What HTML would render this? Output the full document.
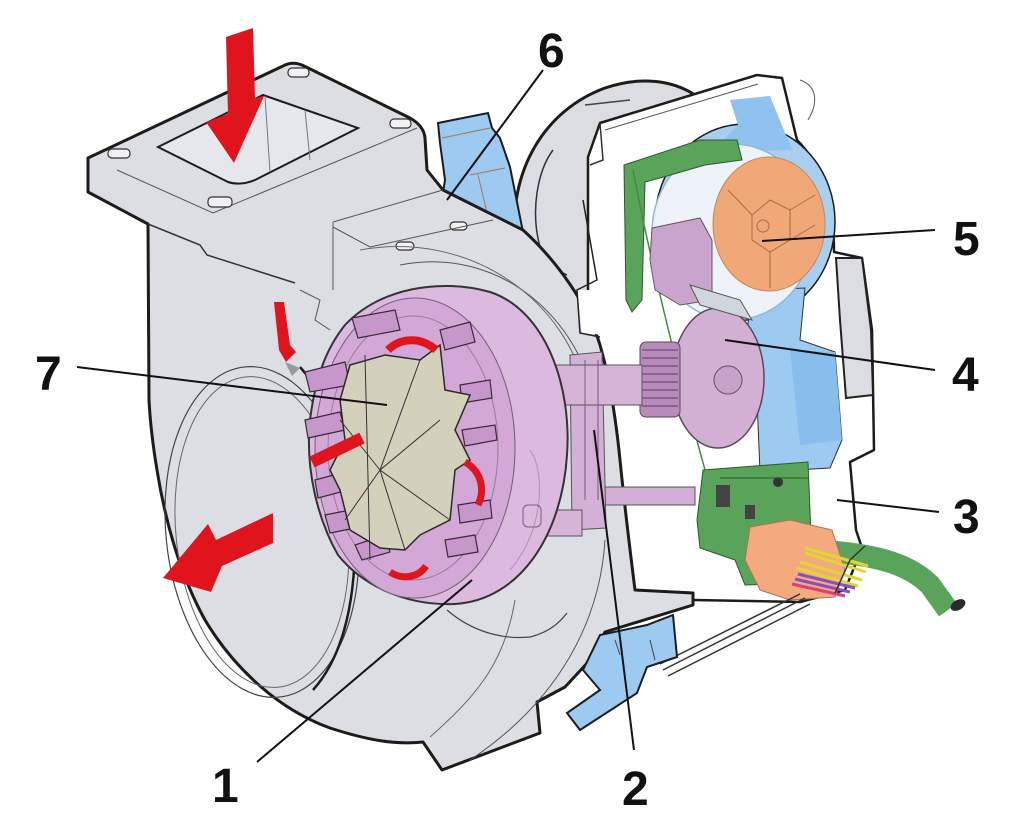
<!DOCTYPE html>
<html><head><meta charset="utf-8"><style>
html,body{margin:0;padding:0;background:#fff;}
svg{display:block;}
text{font-family:"Liberation Sans",Arial,sans-serif;font-weight:bold;fill:#111;}
</style></head><body>
<svg width="1024" height="835" viewBox="0 0 1024 835" xmlns="http://www.w3.org/2000/svg">
<!-- compressor housing arc (behind) -->
<path d="M515,245 C508,170 545,110 605,88 C640,76 672,80 695,95 L600,123 L588,157 L588,300 L540,300 Z" fill="#dcdde2"/>
<path d="M515,245 C508,170 545,110 605,88 C640,76 672,80 695,95" fill="none" stroke="#1c1c1c" stroke-width="3"/>
<path d="M553,150 C538,170 530,210 540,247 C548,262 556,270 567,275" fill="none" stroke="#333" stroke-width="1.5"/>
<path d="M585,105 L630,100" stroke="#444" stroke-width="1.5"/>

<!-- white actuator box -->
<path d="M588,157 L600,123 L757,75 L782,78 L797,140 C822,165 834,205 834,252 L862,258 L872,330 L874,450 L850,462 L856,530 L862,548 L845,590 L800,602 L693,600 L588,600 Z" fill="#ffffff" stroke="#1c1c1c" stroke-width="2.5" stroke-linejoin="round"/>
<path d="M600,123 L603,160 L590,165" fill="none" stroke="#333" stroke-width="1.5"/>
<path d="M605,130 L758,84" stroke="#555" stroke-width="1"/>
<!-- grey side piece -->
<path d="M836,258 L862,258 L871,330 L873,395 L846,398 L840,320 Z" fill="#dcdde2" stroke="#222" stroke-width="2"/>
<path d="M800,80 C815,85 820,100 808,120" fill="none" stroke="#555" stroke-width="1"/>

<!-- blue ring -->
<ellipse cx="745" cy="222" rx="90" ry="98" fill="#a8cff0" stroke="#1c1c1c" stroke-width="1.5"/>
<path d="M730,100 L770,96 L792,150 L712,152 L738,125 Z" fill="#8fc2ee"/>
<path d="M752,290 L805,288 L800,340 L835,352 L842,440 L830,468 L760,472 L757,400 L745,350 Z" fill="#9ccaf0" stroke="#333" stroke-width="1"/>
<path d="M790,350 L835,352 L842,440 L800,445 Z" fill="#88bdec"/>
<ellipse cx="733" cy="232" rx="81" ry="88" fill="#eef3f9" stroke="#8ab8e0" stroke-width="1.5"/>
<!-- green bracket top -->
<path d="M624,165 L700,140 L737,140 L742,160 L705,165 L660,178 L645,182 L642,300 L632,312 L626,300 Z" fill="#5aa35a" stroke="#2d5a2d" stroke-width="1"/>
<path d="M633,170 C650,260 680,380 705,470" fill="none" stroke="#3f8f3f" stroke-width="1.5"/>
<!-- purple actuator parts -->
<path d="M652,228 L700,218 L712,240 L712,300 L680,305 L655,290 L650,260 Z" fill="#c9a4cc" stroke="#6a4f6a" stroke-width="1"/>
<ellipse cx="718" cy="378" rx="46" ry="70" fill="#d2b0d4" stroke="#5d455d" stroke-width="1.5"/>
<circle cx="728" cy="380" r="14" fill="#c7a2c9" stroke="#6a4f6a" stroke-width="1"/>
<rect x="640" y="342" width="40" height="75" rx="6" fill="#b98bbd" stroke="#5d455d" stroke-width="1"/>
<path d="M642,350 H678 M642,358 H678 M642,366 H678 M642,374 H678 M642,382 H678 M642,390 H678 M642,398 H678 M642,406 H678" stroke="#7a5a7c" stroke-width="1.5"/>
<path d="M690,285 L740,300 L752,320 L700,305 Z" fill="#d0d6de" stroke="#555" stroke-width="1"/>
<!-- orange disc 5 -->
<ellipse cx="769" cy="224" rx="56" ry="67" fill="#f0a878" stroke="#c9865a" stroke-width="1"/>
<path d="M752,215 L770,200 L790,210 L790,240 L770,252 L752,240 Z" fill="none" stroke="#a86d47" stroke-width="1"/>
<path d="M752,215 L728,190 M790,210 L815,195 M770,252 L770,288 M790,240 L815,225" stroke="#a86d47" stroke-width="1"/>
<circle cx="763" cy="226" r="6" fill="none" stroke="#a86d47" stroke-width="1"/>

<!-- green lower plate -->
<path d="M703,470 L808,462 L812,560 L800,583 L745,585 L735,560 L700,548 L697,520 Z" fill="#5aa35a" stroke="#2d5a2d" stroke-width="1"/>
<rect x="716" y="485" width="14" height="22" fill="#444"/>
<rect x="745" y="505" width="10" height="14" fill="#444"/>
<circle cx="778" cy="482" r="5" fill="#333"/>
<path d="M720,478 H808" stroke="#2d5a2d" stroke-width="1"/>
<!-- cable -->
<path d="M835,552 C880,556 910,565 930,585 L948,610" fill="none" stroke="#5aa35a" stroke-width="22" stroke-linecap="butt"/>
<ellipse cx="958" cy="605" rx="8" ry="5" fill="#2a2a2a" transform="rotate(-30 958 605)"/>
<!-- orange connector -->
<path d="M750,527 L790,520 L832,530 L845,570 L835,597 L790,600 L760,590 L745,560 Z" fill="#f2aa7e" stroke="#b07050" stroke-width="1"/>
<path d="M805,548 L868,566 M805,553 L866,572 M800,562 L862,580 M796,568 L858,586" stroke="#e3d531" stroke-width="3"/>
<path d="M798,574 L855,588 M795,579 L850,592" stroke="#8a4fbf" stroke-width="3"/>
<path d="M792,584 L845,596" stroke="#d9407a" stroke-width="3"/>
<!-- rails -->
<path d="M663,670 L805,598 M668,676 L810,604 M660,664 L800,594" stroke="#333" stroke-width="1.5"/>
<path d="M835,593 L850,560 L865,546" fill="none" stroke="#333" stroke-width="1.5"/>

<!-- blue top pipe -->
<path d="M438,123 L488,113 L492,128 L500,138 L510,167 L523,232 L500,225 L443,192 L445,180 L440,143 Z" fill="#9ccaf0" stroke="#1c1c1c" stroke-width="2"/>
<path d="M442,138 L490,128 M470,175 L505,168 M478,175 L490,225" stroke="#a07b50" stroke-width="1"/>

<!-- main grey housing -->
<path d="M88,158 L283,66 Q292,61 302,65 L410,118 Q424,126 425,138 L427,170 L443,190 L523,230 C558,262 588,305 600,345 C610,380 616,420 620,460 C625,510 630,550 635,590 L693,593 L693,605 L605,632 L590,660 L565,687 L537,702 L540,733 L442,770 L423,742 C395,745 367,740 330,728 C280,710 235,670 205,620 C180,575 165,520 157,470 C152,440 150,420 149,400 L148,224 L88,192 Z" fill="#dddee3" stroke="#1c1c1c" stroke-width="3" stroke-linejoin="round"/>
<!-- white gap right of purple cylinder -->
<path d="M577,290 L600,290 L605,335 L582,333 Z" fill="#ffffff"/>
<path d="M583,200 L597,280 L577,290 L580,333 L600,337" fill="none" stroke="#222" stroke-width="1.5"/>
<!-- flange details -->
<path d="M158,147 L263,95 L358,128 L255,180 Q240,186 228,182 Z" fill="#e6e7ec" stroke="#1c1c1c" stroke-width="2"/>
<path d="M265,96 L270,172 M305,110 L310,160" stroke="#777" stroke-width="1"/>
<path d="M117,170 L213,213 L417,128" fill="none" stroke="#555" stroke-width="1"/>
<path d="M148,224 L200,245 L207,255 L295,283" fill="none" stroke="#333" stroke-width="1.5"/>
<g fill="#f2f2f4" stroke="#333" stroke-width="1.2">
<rect x="108" y="149" width="22" height="9" rx="4"/>
<rect x="288" y="68" width="21" height="9" rx="4"/>
<rect x="390" y="119" width="21" height="9" rx="4"/>
<rect x="208" y="197" width="24" height="10" rx="4"/>
<rect x="396" y="242" width="18" height="8" rx="4"/>
<rect x="450" y="222" width="17" height="8" rx="4"/>
</g>
<path d="M333,222 L443,190 M333,222 L333,290 M333,227 L370,247 L493,220" fill="none" stroke="#555" stroke-width="1"/>
<path d="M300,290 L320,300 L315,320 L330,330" fill="none" stroke="#555" stroke-width="1"/>
<!-- volute arcs -->
<path d="M400,265 C500,245 590,320 600,430" fill="none" stroke="#555" stroke-width="1"/>
<path d="M470,760 C560,700 600,620 605,540" fill="none" stroke="#555" stroke-width="1"/>
<path d="M430,737 C480,693 505,660 515,600" fill="none" stroke="#666" stroke-width="1"/>
<path d="M447,610 C470,630 500,640 530,637 C550,632 560,622 567,613" fill="none" stroke="#444" stroke-width="1.2"/>
<path d="M360,250 C470,230 570,300 588,400" fill="none" stroke="#666" stroke-width="1"/>
<!-- outlet ring -->
<g transform="rotate(-6 262 532)" fill="none">
<ellipse cx="262" cy="532" rx="96" ry="166" stroke="#444" stroke-width="1.2"/>
<ellipse cx="262" cy="532" rx="86" ry="156" stroke="#666" stroke-width="1"/>
</g>
<path d="M300,367 C330,400 355,470 355,540 C355,610 340,660 313,690" fill="none" stroke="#1c1c1c" stroke-width="2.5"/>

<!-- blue bottom pipe -->
<path d="M600,635 L647,625 L673,615 L677,657 L647,667 L637,693 L580,730 L567,713 L600,690 L583,670 Z" fill="#9ccaf0" stroke="#1c1c1c" stroke-width="2"/>
<path d="M615,640 L620,655 M650,640 L655,660" stroke="#444" stroke-width="1"/>

<!-- purple linkage & rod -->
<rect x="577" y="487" width="118" height="18" fill="#d2aed4" stroke="#555" stroke-width="1"/>
<path d="M570,355 L602,352 L606,528 L572,530 Z" fill="#d3b0d5" stroke="#555" stroke-width="1"/>
<rect x="530" y="510" width="52" height="26" fill="#d6b4d8" stroke="#555" stroke-width="1"/>
<rect x="550" y="365" width="92" height="40" fill="#d6b4d8" stroke="#555" stroke-width="1"/>
<path d="M585,360 L585,500 M598,360 L598,500" stroke="#7a5a7c" stroke-width="1"/>

<!-- purple cylinder -->
<path d="M345,325 C380,288 440,278 490,292 C545,310 572,385 567,455 C562,535 520,600 455,604 C405,606 362,585 338,555 C318,520 305,470 310,420 C315,380 325,350 345,325 Z" fill="#dcb9de" stroke="#333" stroke-width="2"/>
<ellipse cx="415" cy="448" rx="100" ry="150" fill="#d3a8d6" stroke="#7a5a7c" stroke-width="1"/>
<ellipse cx="413" cy="448" rx="85" ry="132" fill="none" stroke="#9a7a9c" stroke-width="1"/>
<path d="M530,450 C545,470 545,530 510,570" fill="none" stroke="#b090b2" stroke-width="1"/>
<rect x="523" y="505" width="18" height="22" rx="5" fill="none" stroke="#7a5a7c" stroke-width="1"/>
<!-- blade teeth -->
<g fill="#c796ca" stroke="#3a2a3a" stroke-width="1.2">
<path d="M305,372 L345,362 L350,385 L310,392 Z"/>
<path d="M305,420 L340,412 L345,430 L308,438 Z"/>
<path d="M315,480 L345,472 L348,490 L318,498 Z"/>
<path d="M325,515 L350,510 L355,528 L330,533 Z"/>
<path d="M355,545 L385,535 L390,552 L362,560 Z"/>
<path d="M352,318 L395,310 L400,330 L358,338 Z"/>
<path d="M440,330 L470,322 L475,342 L445,350 Z"/>
<path d="M460,385 L490,380 L492,398 L462,403 Z"/>
<path d="M462,430 L495,425 L497,440 L465,446 Z"/>
<path d="M458,505 L490,500 L492,518 L460,523 Z"/>
<path d="M445,540 L475,535 L478,552 L448,557 Z"/>
</g>
<!-- beige turbine wheel -->
<path d="M350,365 L385,355 L420,360 L440,345 L445,390 L470,395 L455,430 L470,460 L455,470 L450,520 L420,535 L405,550 L380,548 L350,530 L340,490 L330,470 L345,440 L340,400 Z" fill="#d3d0bc" stroke="#2a2a2a" stroke-width="1.5"/>
<path d="M365,355 L370,560 M380,470 L440,420 M380,470 L450,520 M380,470 L340,420 M380,470 L345,520 M380,470 L405,550 M380,470 L420,360" stroke="#333" stroke-width="1"/>
<!-- red flow arrows -->
<path d="M226,37 L253,28 L255,98 L264,96 L234,163 L206,122 L228,114 Z" fill="#e0141c"/>
<path d="M273,513 L273,543 L222,566 L211,592 L163,578 L208,524 L216,540 Z" fill="#e0141c"/>
<path d="M274,302 L284,302 L290,345 L296,352 L286,362 L279,350 Z" fill="#e0141c"/>
<path d="M285,362 L300,368 L292,376 Z" fill="#999"/>
<path d="M388,350 C400,338 420,336 436,350" fill="none" stroke="#e0141c" stroke-width="8"/>
<path d="M312,462 L362,438" stroke="#e0141c" stroke-width="12"/>
<path d="M465,462 C482,472 485,490 478,505" fill="none" stroke="#e0141c" stroke-width="7"/>
<path d="M390,572 C402,580 418,578 426,566" fill="none" stroke="#e0141c" stroke-width="7"/>

<!-- leader lines -->
<g stroke="#111" stroke-width="2" fill="none">
<path d="M543,70 L447,200"/>
<path d="M935,230 L762,241"/>
<path d="M935,370 L725,340"/>
<path d="M939,512 L837,500"/>
<path d="M634,750 L594,430"/>
<path d="M257,762 L472,580"/>
<path d="M77,367 L387,405"/>
</g>
<!-- labels -->
<text x="538" y="67" font-size="48">6</text>
<text x="953" y="255" font-size="48">5</text>
<text x="952" y="391" font-size="48">4</text>
<text x="953" y="533" font-size="48">3</text>
<text x="622" y="805" font-size="48">2</text>
<text x="212" y="802" font-size="48">1</text>
<text x="35" y="390" font-size="48">7</text>
</svg>
</body></html>
